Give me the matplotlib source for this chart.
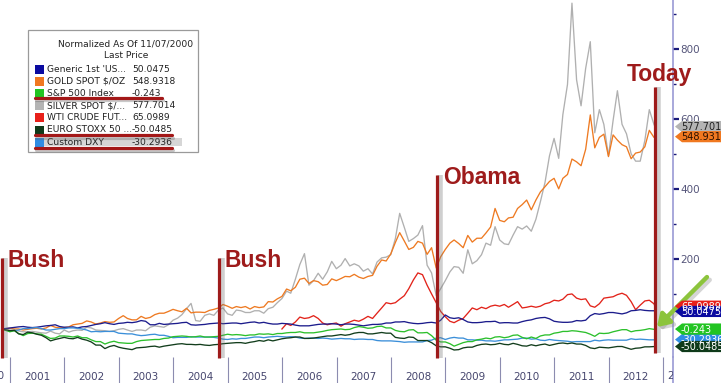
import numpy as np
import pandas as pd
import matplotlib
matplotlib.use("Agg")
import matplotlib.pyplot as plt
import matplotlib.dates as mdates
import matplotlib.patheffects as pe
from matplotlib.patches import Rectangle, Polygon
from matplotlib.lines import Line2D
from matplotlib.transforms import Bbox, TransformedBbox, IdentityTransform

W, H = 721, 383

# ---------------- data (normalized % change since 11/07/2000) ----------------
dates = pd.DatetimeIndex(
    [pd.Timestamp("2000-11-07")]
    + list(pd.date_range("2000-12-01", "2012-10-01", freq="MS") + pd.offsets.MonthEnd(0))
    + [pd.Timestamp("2012-11-07")]
)

treasury = [
    0, 3,
    5, 6, 7, 5, 4, 5, 7, 9, 10, 12, 7, 5,
    5, 6, 3, 6, 7, 10, 13, 15, 18, 15, 13, 16,
    17, 19, 18, 20, 24, 22, 12, 12, 16, 13, 14, 15,
    16, 18, 19, 12, 11, 12, 13, 15, 16, 17, 15, 16,
    17, 17, 15, 17, 19, 20, 17, 19, 16, 14, 14, 16,
    15, 14, 11, 9, 9, 9, 11, 13, 14, 14, 15, 14,
    12, 14, 14, 13, 11, 9, 11, 13, 13, 14, 17, 17,
    20, 20, 21, 18, 16, 15, 16, 18, 19, 17, 25, 40,
    32, 30, 32, 27, 20, 18, 18, 19, 21, 21, 22, 17,
    18, 18, 17, 17, 21, 24, 26, 30, 32, 33, 29, 22,
    20, 19, 19, 20, 24, 23, 25, 38, 44, 42, 44, 47,
    47, 45, 43, 46, 52, 53, 55, 53, 52, 52, 50.0475,
]
gold = [
    0, 2,
    0, 0, -3, -1, 1, 2, 0, 3, 10, 5, 3, 4,
    6, 12, 14, 16, 23, 20, 14, 17, 21, 19, 20, 30,
    38, 30, 26, 26, 36, 30, 33, 41, 45, 45, 50, 56,
    52, 49, 59, 46, 48, 48, 47, 53, 56, 60, 70, 65,
    59, 64, 61, 64, 57, 64, 61, 63, 78, 77, 86, 93,
    114, 109, 119, 142, 145, 130, 138, 135, 125, 127, 143, 138,
    144, 150, 149, 156, 148, 144, 150, 153, 179, 197, 194, 214,
    247, 275, 251, 227, 233, 250, 245, 213, 232, 174, 206, 227,
    245, 254, 244, 232, 267, 248, 259, 259, 274, 291, 344, 310,
    306, 317, 319, 344, 355, 368, 340, 368, 391, 406, 421, 430,
    400, 430, 441, 485, 477, 466, 513, 611, 517, 547, 556, 492,
    554, 539, 526, 520, 486, 502, 505, 520, 567, 547, 548.9318,
]
spx = [
    0, -8,
    -5, -13, -19, -13, -12, -14, -15, -21, -27, -26, -20, -20,
    -21, -23, -20, -25, -25, -31, -36, -36, -43, -38, -35, -39,
    -40, -41, -41, -36, -33, -32, -31, -30, -30, -27, -26, -22,
    -21, -20, -21, -23, -22, -20, -23, -23, -22, -21, -18, -15,
    -17, -16, -17, -19, -17, -17, -14, -15, -14, -16, -13, -13,
    -11, -10, -10, -8, -11, -11, -11, -9, -7, -4, -2, -1,
    0, -2, -1, 4, 7, 5, 2, 3, 7, 8, 3, 3,
    -4, -7, -8, -3, -2, -11, -11, -10, -19, -32, -37, -37,
    -42, -49, -44, -39, -36, -36, -31, -29, -26, -28, -23, -22,
    -25, -23, -18, -17, -24, -28, -23, -27, -20, -17, -17, -12,
    -10, -7, -7, -5, -6, -8, -10, -15, -21, -12, -13, -12,
    -8, -5, -2, -2, -8, -5, -4, -2, 1, -1, -0.243,
]
silver = [
    0, -3,
    -4, -6, -8, -8, -7, -9, -11, -12, -6, -12, -14, -3,
    -9, -5, -3, -4, 5, 3, -3, -4, -5, -7, -5, -1,
    1, -3, -7, -3, -3, -5, 5, 9, 7, 5, 12, 25,
    31, 41, 58, 73, 24, 22, 39, 43, 39, 54, 60, 43,
    39, 54, 52, 47, 47, 52, 52, 45, 58, 62, 75, 87,
    108, 102, 142, 184, 215, 125, 138, 159, 142, 163, 193, 172,
    182, 201, 180, 186, 180, 165, 172, 157, 191, 203, 205, 212,
    258, 330, 290, 250, 258, 268, 295, 182, 160, 95, 115, 138,
    163, 178, 176, 159, 226, 186, 195, 212, 245, 239, 292, 254,
    243, 241, 268, 292, 285, 294, 279, 313, 363, 418, 494, 544,
    487, 612, 698, 930, 711, 637, 744, 820, 560, 626, 584, 494,
    595, 680, 584, 557, 500, 479, 479, 538, 626, 584, 577.7014,
]
# WTI series starts in Dec 2005
wti = [
    0,
    15, 10, 20, 34, 30, 32, 38, 30, 17, 12, 15, 17,
    8, 15, 20, 25, 22, 28, 36, 30, 45, 60, 75, 72,
    75, 85, 95, 115, 140, 160, 155, 125, 100, 75, 50, 35,
    22, 18, 25, 30, 45, 60, 55, 62, 58, 65, 68, 65,
    70, 62, 70, 78, 60, 62, 65, 62, 65, 72, 75, 82,
    80, 85, 98, 100, 88, 84, 86, 66, 62, 72, 88, 90,
    92, 98, 102, 96, 78, 55, 68, 80, 82, 72, 65.0989,
]
sx5e = [
    0, -5,
    -4, -14, -16, -9, -11, -15, -18, -25, -34, -30, -27, -24,
    -27, -28, -24, -29, -32, -37, -46, -46, -56, -50, -47, -52,
    -55, -57, -59, -54, -53, -52, -50, -49, -52, -49, -47, -45,
    -43, -42, -44, -44, -45, -44, -46, -47, -45, -44, -42, -41,
    -40, -39, -39, -41, -38, -36, -33, -35, -31, -34, -31, -28,
    -26, -25, -23, -23, -27, -27, -26, -24, -22, -20, -20, -18,
    -16, -18, -16, -12, -10, -10, -14, -14, -12, -10, -12, -12,
    -24, -26, -27, -23, -24, -33, -33, -33, -39, -48, -51, -51,
    -55, -60, -59, -54, -52, -52, -47, -44, -43, -45, -44, -41,
    -44, -45, -41, -44, -48, -49, -45, -48, -45, -43, -47, -44,
    -41, -40, -42, -40, -43, -43, -47, -54, -56, -52, -53, -54,
    -52, -50, -50, -54, -58, -55, -54, -51, -51, -50, -50.0485,
]
dxy = [
    0, -6,
    -4, -3, 1, 1, 3, 4, 1, -3, -3, -1, 1, 1,
    3, 3, 2, 0, -3, -8, -7, -8, -7, -7, -7, -12,
    -13, -14, -14, -17, -19, -18, -16, -15, -18, -18, -21, -25,
    -24, -24, -24, -22, -23, -23, -23, -23, -24, -26, -29, -30,
    -28, -29, -27, -27, -25, -23, -23, -25, -23, -22, -21, -22,
    -23, -22, -23, -26, -27, -26, -26, -27, -26, -27, -29, -28,
    -27, -28, -28, -30, -29, -29, -30, -30, -33, -34, -34, -34,
    -35, -36, -38, -37, -37, -37, -37, -33, -32, -26, -25, -30,
    -26, -24, -26, -26, -31, -31, -32, -32, -34, -34, -35, -33,
    -31, -31, -30, -29, -26, -26, -29, -28, -32, -33, -30, -32,
    -33, -34, -35, -37, -36, -36, -36, -36, -32, -34, -32, -31,
    -32, -32, -32, -32, -28, -30, -29, -30, -31, -31, -30.2936,
]

names = ["Generic 1st 'US...", "GOLD SPOT $/OZ", "S&P 500 Index", "SILVER SPOT $/...",
         "WTI CRUDE FUT...", "EURO STOXX 50 ...", "Custom DXY"]
last_prices = ["50.0475", "548.9318", "-0.243", "577.7014", "65.0989", "-50.0485", "-30.2936"]
series = [treasury, gold, spx, silver, wti, sx5e, dxy]

event_dates = ["2000-11-07", "2004-11-02", "2008-11-04", "2012-11-07"]
event_labels = ["Bush", "Bush", "Obama", "Today"]

year_ticks = list(range(2001, 2014))
year_labels = [str(y) for y in range(2001, 2013)]

# ---------------- styles ----------------
line_colors = ["#1c1c8c", "#ee7a22", "#2cc02c", "#b0b0b0", "#e2231a", "#123d1c", "#3b8fd9"]
legend_colors = ["#0a0aa0", "#f07820", "#22c422", "#b4b4b4", "#e8201a", "#0f3a1a", "#2f8de4"]
tag_text_colors = ["white", "#2a1000", "white", "#222222", "white", "white", "white"]
draw_order = [3, 1, 4, 0, 6, 2, 5]   # z-order of lines (silver behind gold ...)
tag_order = [3, 1, 4, 0, 6, 2, 5]
event_top = [203, 203, 439, 690]
event_bottom = [-83, -83, -83, -68]
event_color = "#9e1b1b"

fig = plt.figure(figsize=(W / 100, H / 100), dpi=100)
fig.patch.set_facecolor("white")
ax = fig.add_axes([0, 26 / H, 673 / W, 357 / H])
ax.set_facecolor("white")

xmin, xmax = pd.Timestamp("2000-10-26"), pd.Timestamp("2013-03-08")
ax.set_xlim(xmin, xmax)
ax.set_ylim(-80, 939)

for z, i in enumerate(draw_order):
    vals = np.array(series[i], dtype=float)
    d = dates[len(dates) - len(vals):]
    ax.plot(d, vals, color=line_colors[i], lw=0.95, zorder=2 + z * 0.1)

# spines
for s in ["left", "top", "bottom"]:
    ax.spines[s].set_visible(False)
ax.spines["right"].set_color("#9a9ad4")
ax.spines["right"].set_linewidth(1.2)
fig.add_artist(Line2D([673 / W, 673 / W], [0, 26 / H], color="#9a9ad4", lw=1.2))

# y axis
ax.yaxis.tick_right()
ax.set_yticks([200, 400, 600, 800])
ax.set_yticks([100, 300, 500, 700, 900], minor=True)
ax.tick_params(axis="y", which="major", length=4, width=1.6, color="#1a1a7a",
               labelsize=7.5, labelcolor="#55557a", pad=1)
ax.tick_params(axis="y", which="minor", length=2.5, width=1.0, color="#1a1a7a")

# x axis
ax.set_xticks([pd.Timestamp(f"{y}-01-01") for y in year_ticks])
ax.set_xticklabels([])
ax.set_xticks([pd.Timestamp(f"{y}-07-01") for y in range(2001, 2013)], minor=True)
ax.set_xticklabels(year_labels, minor=True)
ax.tick_params(axis="x", which="major", length=19, width=0.8, color="#8c8cb0", direction="out")
ax.tick_params(axis="x", which="minor", length=0, labelsize=7.5, labelcolor="#46466e", pad=11)
for lab in ax.get_xticklabels(minor=True):
    lab.set_fontfamily("DejaVu Sans")

clip_fig = TransformedBbox(Bbox([[0, 0], [673 / W, 1]]), fig.transFigure)
t = fig.text(667 / W, 1 - 376 / H, "2013", fontsize=7.5, color="#46466e", va="center", ha="left")
t.set_clip_box(clip_fig); t.set_clip_on(True)
t = fig.text(4 / W, 1 - 376 / H, "2000", fontsize=7.5, color="#46466e", va="center", ha="right")

# ---------------- event lines and labels ----------------
for d, lab, top, bot in zip(event_dates, event_labels, event_top, event_bottom):
    d = pd.Timestamp(d)
    ax.plot([d, d], [bot, top], color=event_color, lw=2.3, solid_capstyle="butt",
            clip_on=False, zorder=6,
            path_effects=[pe.SimpleLineShadow(offset=(2.5, 0), shadow_color="#777777", alpha=0.35,
                                              linewidth=4), pe.Normal()])
    if lab == "Today":
        xy_off, ha = (4, 24), "center"
    else:
        xy_off, ha = (6, 9), "left"
    ax.annotate(lab, xy=(d, top), xytext=xy_off, textcoords="offset pixels",
                ha=ha, va="top", fontsize=16.5, fontweight="bold", color=event_color,
                family="Liberation Sans", zorder=7, annotation_clip=False,
                path_effects=[pe.withSimplePatchShadow(offset=(1, -1), shadow_rgbFace="#999999", alpha=0.4)]
                if False else None)

# green arrow pointing at the end of the series
ax.annotate("", xy=(dates[-1], spx[-1]), xytext=(52, 52), textcoords="offset pixels",
            annotation_clip=False,
            arrowprops=dict(arrowstyle="-|>,head_length=0.7,head_width=0.45", lw=3.2,
                            color="#8cc43c", shrinkA=0, shrinkB=2,
                            path_effects=[pe.SimpleLineShadow(offset=(2, -2), shadow_color="#888888", alpha=0.35),
                                          pe.Normal()]),
            zorder=8)

# ---------------- last-price tags ----------------
xend = mdates.date2num(xmax)
for i in tag_order:
    val = float(series[i][-1])
    xd, yd = ax.transData.transform((xend, val))
    x0 = xd + 2
    h = 5.6
    poly = Polygon([[x0, yd], [x0 + 7, yd + h], [W + 5, yd + h], [W + 5, yd - h], [x0 + 7, yd - h]],
                   closed=True, transform=IdentityTransform(), facecolor=legend_colors[i],
                   edgecolor="none", zorder=9)
    fig.add_artist(poly)
    fig.text((x0 + 6) / W, (yd - 0.5) / H, last_prices[i], fontsize=7, color=tag_text_colors[i],
             va="center", ha="left", zorder=10, family="DejaVu Sans")

# ---------------- legend box ----------------
def fx(p):
    return p / W

def fy(p):
    return 1 - p / H

box = Rectangle((fx(28), fy(152)), fx(198) - fx(28), fy(30) - fy(152), transform=fig.transFigure,
                facecolor="white", edgecolor="#9a9a9a", lw=0.9, zorder=11)
fig.add_artist(box)
fig.text(fx(126), fy(44), "Normalized As Of 11/07/2000", fontsize=6.6, ha="center", va="center",
         color="#222222", zorder=12)
fig.text(fx(126), fy(56), "Last Price", fontsize=6.6, ha="center", va="center", color="#222222", zorder=12)

# highlight behind "Custom DXY"
fig.add_artist(Rectangle((fx(35), fy(146)), fx(182) - fx(35), fy(138) - fy(146), transform=fig.transFigure,
                         facecolor="#d6d6d6", edgecolor="none", zorder=11.5))

for k, (nm, lp, c) in enumerate(zip(names, last_prices, legend_colors)):
    yc = 69 + k * 12.2
    fig.add_artist(Rectangle((fx(35), fy(yc + 4.5)), fx(9), fy(yc - 4.5) - fy(yc + 4.5),
                             transform=fig.transFigure, facecolor=c, edgecolor="none", zorder=12))
    fig.text(fx(47), fy(yc), nm, fontsize=6.6, ha="left", va="center", color="#222222", zorder=12,
             parse_math=False)
    fig.text(fx(132), fy(yc), lp, fontsize=6.6, ha="left", va="center", color="#222222", zorder=12)

# hand-drawn red underlines
for (x1, x2, yy) in [(35, 162, 98), (35, 172, 135.5), (35, 172, 148)]:
    fig.add_artist(Line2D([fx(x1), fx(x2)], [fy(yy), fy(yy)], color="#a31818", lw=2.3, zorder=13,
                          solid_capstyle="round",
                          path_effects=[pe.SimpleLineShadow(offset=(1, -1.5), shadow_color="#666666", alpha=0.35),
                                        pe.Normal()]))

fig.savefig("out.png", dpi=100, facecolor="white")
